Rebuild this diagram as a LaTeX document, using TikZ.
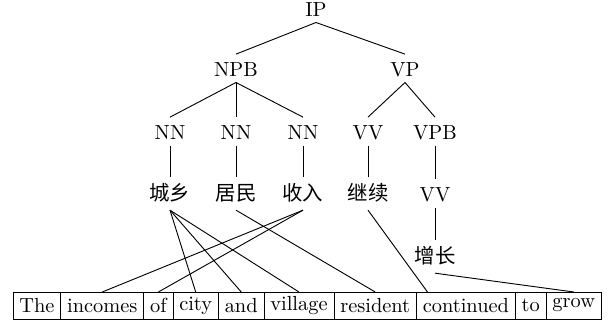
\documentclass[tikz,border=0pt]{standalone}
\usepackage{fontspec}
\newfontfamily\cjk{Noto Sans CJK SC}
\usetikzlibrary{calc}
\begin{document}
\begin{tikzpicture}[x=0.49pt,y=-0.49pt,
  lab/.style={anchor=base,inner xsep=1pt,inner ysep=2.5pt,text height=8.5pt,text depth=0pt},
  zh/.style={anchor=base,inner xsep=1pt,inner ysep=2.5pt,text height=9pt,text depth=1.8pt,font=\cjk},
  word/.style={draw,anchor=north west,outer sep=0pt,inner xsep=3.1pt,inner ysep=1pt,minimum height=13.2pt},
  conn/.style={line width=0.45pt}]
\useasboundingbox (0,0) rectangle (610,326);
% tree labels
\node[lab] (ip) at (316,17) {IP};
\node[lab] (npb) at (236,77) {NPB};
\node[lab] (vp) at (405,77) {VP};
\node[lab] (nn1) at (170,140) {NN};
\node[lab] (nn2) at (236,140) {NN};
\node[lab] (nn3) at (303,140) {NN};
\node[lab] (vv1) at (368,140) {VV};
\node[lab] (vpb) at (435,140) {VPB};
\node[zh] (c1) at (170,201) {城乡};
\node[zh] (c2) at (236,201) {居民};
\node[zh] (c3) at (303,201) {收入};
\node[zh] (c4) at (368,201) {继续};
\node[lab] (vv2) at (435,202) {VV};
\node[zh] (c5) at (435,264) {增长};
% words
\node[word] (w1) at (13,292) {The};
\node[word] (w2) at (w1.north east) {incomes};
\node[word] (w3) at (w2.north east) {of};
\node[word] (w4) at (w3.north east) {city};
\node[word] (w5) at (w4.north east) {and};
\node[word] (w6) at (w5.north east) {village};
\node[word] (w7) at (w6.north east) {resident};
\node[word] (w8) at (w7.north east) {continued};
\node[word] (w9) at (w8.north east) {to};
\node[word] (w10) at (w9.north east) {grow};
% tree edges
\draw[conn] (ip.south) -- (npb.north);
\draw[conn] (ip.south) -- (vp.north);
\draw[conn] (npb.south) -- (nn1.north);
\draw[conn] (npb.south) -- (nn2.north);
\draw[conn] (npb.south) -- (nn3.north);
\draw[conn] (vp.south) -- (vv1.north);
\draw[conn] (vp.south) -- (vpb.north);
\draw[conn] (nn1.south) -- (c1.north);
\draw[conn] (nn2.south) -- (c2.north);
\draw[conn] (nn3.south) -- (c3.north);
\draw[conn] (vv1.south) -- (c4.north);
\draw[conn] (vpb.south) -- (vv2.north);
\draw[conn] (vv2.south) -- (c5.north);
% alignment edges
\draw[conn] (c1.south) -- (w4.north);
\draw[conn] (c1.south) -- (w5.north);
\draw[conn] (c1.south) -- (w6.north);
\draw[conn] (c3.south) -- (w2.north);
\draw[conn] (c3.south) -- (w3.north);
\draw[conn] (c2.south) -- (w7.north);
\coordinate (w8in) at ($(w8.north west)+(11,0)$);
\draw[conn] (c4.south) -- (w8in);
\draw[conn] (c5.south) -- (w10.north);
\end{tikzpicture}
\end{document}
